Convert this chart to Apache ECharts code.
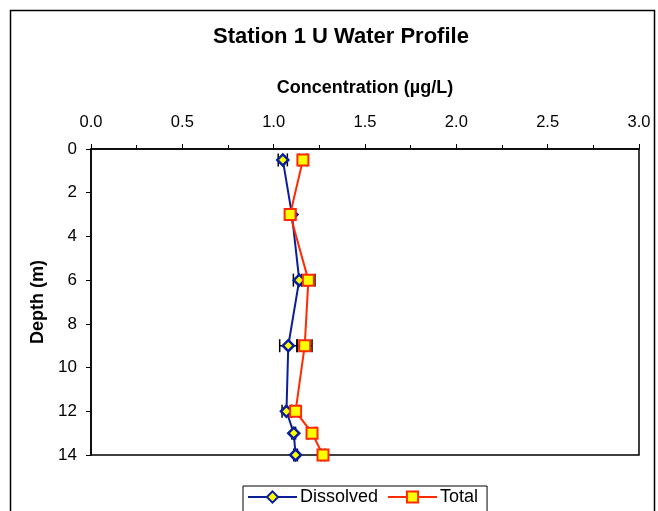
<!DOCTYPE html>
<html>
<head>
<meta charset="utf-8">
<script src="https://cdn.jsdelivr.net/npm/echarts@6/dist/echarts.min.js"></script>
<style>
  html, body { margin: 0; padding: 0; background: #fff; }
  #chart { width: 658px; height: 511px; }
</style>
</head>
<body>
<div id="chart"></div>
<script>
// depth (m) of each sample
const depths = [0.5, 3, 6, 9, 12, 13, 14]
// concentrations (ug/L)
const dissolved = [1.05, 1.10, 1.14, 1.08, 1.07, 1.11, 1.12]
const total = [1.16, 1.09, 1.19, 1.17, 1.12, 1.21, 1.27]
// +/- error on the concentration
const dissolvedErr = [0.025, 0.02, 0.032, 0.047, 0.024, 0.01, 0.01]
const totalErr = [0.02, 0.015, 0.036, 0.04, 0.02, 0.02, 0.01]

const xTicks = ['0.0', '0.5', '1.0', '1.5', '2.0', '2.5', '3.0']

const fonte = 'Liberation Sans, Arial, sans-serif'
const azul = '#0A1E9A'
const vermelho = '#FF2A00'

function pares(xs) {
  return xs.map((x, i) => [x, depths[i]])
}

function barrasErro(valores, erros) {
  return valores.map((v, i) => [v - erros[i], v + erros[i], depths[i]])
}

function desenhaErro(params, api) {
  var a = api.coord([api.value(0), api.value(2)])
  var b = api.coord([api.value(1), api.value(2)])
  var h = 6.5
  var estilo = { stroke: '#000', lineWidth: 1.5 }
  return {
    type: 'group',
    children: [
      { type: 'line', shape: { x1: a[0], y1: a[1], x2: b[0], y2: b[1] }, style: estilo },
      { type: 'line', shape: { x1: a[0], y1: a[1] - h, x2: a[0], y2: a[1] + h }, style: estilo },
      { type: 'line', shape: { x1: b[0], y1: b[1] - h, x2: b[0], y2: b[1] + h }, style: estilo }
    ]
  }
}

var chartDom = document.getElementById('chart')
var myChart = echarts.init(chartDom, null, { renderer: 'canvas' })

var option = {
  animation: false,
  backgroundColor: '#fff',
  textStyle: { fontFamily: fonte },
  title: {
    text: 'Station 1 U Water Profile',
    left: 213,
    top: 26,
    padding: 0,
    textStyle: { fontFamily: fonte, fontSize: 22, fontWeight: 'bold', color: '#000' }
  },
  graphic: [
    {
      type: 'rect',
      shape: { x: 10.5, y: 10.5, width: 644, height: 540 },
      style: { fill: 'none', stroke: '#000', lineWidth: 1.5 },
      silent: true
    }
  ],
  legend: {
    top: 486,
    left: 243,
    data: ['Dissolved', 'Total'],
    itemWidth: 49,
    itemHeight: 14,
    itemGap: 9,
    padding: [2, 9, 20, 4],
    borderColor: '#000',
    borderWidth: 1,
    textStyle: { fontFamily: fonte, fontSize: 18, color: '#000', padding: [0, 0, 0, -2] }
  },
  grid: {
    left: 91,
    right: 19,
    top: 149,
    bottom: 56,
    show: true,
    borderColor: '#000',
    borderWidth: 1.5,
    backgroundColor: '#fff'
  },
  xAxis: {
    type: 'value',
    position: 'top',
    min: 0,
    max: 3,
    interval: 0.5,
    name: 'Concentration (µg/L)',
    nameLocation: 'middle',
    nameGap: 52,
    nameTextStyle: { fontFamily: fonte, fontSize: 18, fontWeight: 'bold', color: '#000' },
    axisLine: { show: true, onZero: false, lineStyle: { color: '#000', width: 1.5 } },
    axisTick: { show: true, length: 5, lineStyle: { color: '#000' } },
    minorTick: { show: true, splitNumber: 2, length: 4, lineStyle: { color: '#000' } },
    splitLine: { show: false },
    axisLabel: {
      margin: 18,
      fontFamily: fonte,
      fontSize: 16.5,
      color: '#000',
      formatter: function (v) {
        return xTicks[Math.round(v / 0.5)]
      }
    }
  },
  yAxis: {
    type: 'value',
    inverse: true,
    min: 0,
    max: 14,
    interval: 2,
    name: 'Depth (m)',
    nameLocation: 'middle',
    nameRotate: 90,
    nameGap: 39,
    nameTextStyle: { fontFamily: fonte, fontSize: 18, fontWeight: 'bold', color: '#000' },
    axisLine: { show: true, onZero: false, lineStyle: { color: '#000', width: 1.5 } },
    axisTick: { show: true, length: 5, lineStyle: { color: '#000' } },
    splitLine: { show: false },
    axisLabel: { margin: 14, fontFamily: fonte, fontSize: 17, color: '#000' }
  },
  series: [
    {
      type: 'custom',
      name: 'errDissolved',
      renderItem: desenhaErro,
      data: barrasErro(dissolved, dissolvedErr),
      encode: { x: [0, 1], y: 2 },
      z: 1,
      silent: true
    },
    {
      type: 'custom',
      name: 'errTotal',
      renderItem: desenhaErro,
      data: barrasErro(total, totalErr),
      encode: { x: [0, 1], y: 2 },
      z: 1,
      silent: true
    },
    {
      name: 'Dissolved',
      type: 'line',
      data: pares(dissolved),
      symbol: 'diamond',
      symbolSize: 11,
      color: azul,
      lineStyle: { color: azul, width: 2 },
      itemStyle: { color: '#FFFF00', borderColor: azul, borderWidth: 2.5 },
      z: 3
    },
    {
      name: 'Total',
      type: 'line',
      data: pares(total),
      symbol: 'rect',
      symbolSize: 11,
      color: vermelho,
      lineStyle: { color: vermelho, width: 2 },
      itemStyle: { color: '#FFFF00', borderColor: vermelho, borderWidth: 2 },
      z: 4
    }
  ]
}

option && myChart.setOption(option)
</script>
</body>
</html>
